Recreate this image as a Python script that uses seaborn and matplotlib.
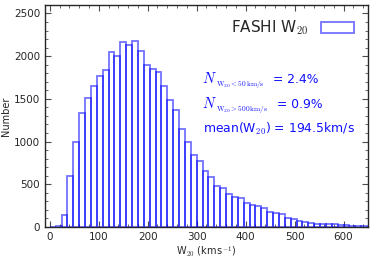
import numpy as np
import pandas as pd
import matplotlib
matplotlib.use("Agg")
import matplotlib.pyplot as plt
from matplotlib.ticker import AutoMinorLocator
import seaborn as sns

# histogram binning of W20 (km/s)
bin_width = 12
bin_range = (0, 660)

# counts per bin
counts = [0, 15, 146, 596, 1000, 1334, 1510, 1647, 1769, 1835,
          2047, 2000, 2165, 2126, 2173, 2063, 1900, 1845, 1818, 1655,
          1482, 1370, 1150, 993, 838, 768, 659, 588, 479, 451,
          385, 353, 334, 282, 255, 243, 228, 176, 165, 149,
          110, 90, 71, 55, 45, 38, 38, 32, 30, 22,
          20, 12, 10, 8, 5]

label_main = "FASHI W$_{\\mathsf{20}}$"
frac_subs = ["$\\rm W_{20}<50\\,km/s$", "$\\rm W_{20}>500\\,km/s$"]
frac_vals = ["= 2.4%", "= 0.9%"]
mean_text = "mean(W$_{\\rm 20}$) = 194.5km/s"

sns.set_style("ticks")
plt.rcParams["font.family"] = ["DejaVu Sans"]
plt.rcParams["mathtext.fontset"] = "cm"

centers = bin_range[0] + bin_width * (np.arange(len(counts)) + 0.5)
df = pd.DataFrame({"w20": centers, "n": counts})

fig, ax = plt.subplots(figsize=(3.74, 2.6), dpi=100)
fig.subplots_adjust(left=0.12, right=0.984, bottom=0.127, top=0.981)

sns.histplot(data=df, x="w20", weights="n", binwidth=bin_width,
             binrange=bin_range, fill=False, color="blue", alpha=0.55,
             linewidth=1.3, label=label_main, ax=ax)

ax.set_xlim(-10, 650)
ax.set_ylim(0, 2600)
ax.set_xticks([0, 100, 200, 300, 400, 500, 600])
ax.set_yticks([0, 500, 1000, 1500, 2000, 2500])
ax.xaxis.set_minor_locator(AutoMinorLocator())
ax.yaxis.set_minor_locator(AutoMinorLocator())
ax.tick_params(which="both", direction="in", top=True, right=True,
               labelsize=7.5, color="0.3")
ax.tick_params(which="major", length=4, width=0.8)
ax.tick_params(which="minor", length=2, width=0.6)
for s in ax.spines.values():
    s.set_linewidth(1.0)

ax.set_xlabel("W$_{\\mathsf{20}}$ (km$\\,$s$^{-1}$)", fontsize=7, labelpad=2)
ax.set_ylabel("Number", fontsize=7, labelpad=2)

ax.legend(loc="upper right", frameon=False, markerfirst=False, fontsize=11,
          handlelength=2.2, handleheight=0.7, borderaxespad=0.5)

blue = "#1010ff"
tr = ax.transAxes
for sub, val, yb, xv in zip(frac_subs, frac_vals, [0.649, 0.535], [0.705, 0.718]):
    ax.text(0.487, yb, "$N$", transform=tr, color=blue, fontsize=10.5,
            va="baseline", ha="left")
    ax.text(0.530, yb - 0.014, sub, transform=tr, color=blue, fontsize=5.3,
            va="baseline", ha="left")
    ax.text(xv, yb, val, transform=tr, color=blue, fontsize=8.9,
            va="baseline", ha="left")
ax.text(0.489, 0.422, mean_text, transform=tr, color=blue, fontsize=8.9,
        va="baseline", ha="left")

fig.savefig("out.png", dpi=100)
